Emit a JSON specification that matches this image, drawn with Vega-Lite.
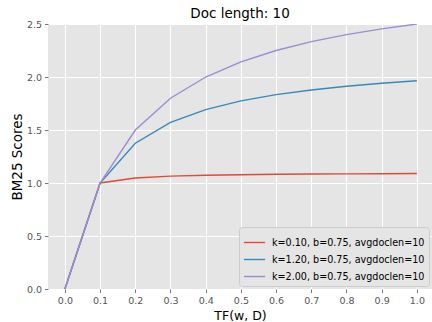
{
  "$schema": "https://vega.github.io/schema/vega-lite/v6.json",
  "width": 384,
  "height": 265,
  "autosize": {"type": "none"},
  "padding": {"left": 48, "top": 24, "right": 0, "bottom": 33},
  "background": "white",
  "title": {"text": "Doc length: 10", "fontSize": 13.5, "fontWeight": "normal", "font": "DejaVu Sans", "color": "black", "anchor": "middle", "frame": "group", "offset": 6, "baseline": "alphabetic", "dy": 18},
  "data": {"values": [
    {"tf": 0.0, "score": 0, "series": "k=0.10, b=0.75, avgdoclen=10"},
    {"tf": 0.1, "score": 1.0, "series": "k=0.10, b=0.75, avgdoclen=10"},
    {"tf": 0.2, "score": 1.0476, "series": "k=0.10, b=0.75, avgdoclen=10"},
    {"tf": 0.3, "score": 1.0645, "series": "k=0.10, b=0.75, avgdoclen=10"},
    {"tf": 0.4, "score": 1.0732, "series": "k=0.10, b=0.75, avgdoclen=10"},
    {"tf": 0.5, "score": 1.0784, "series": "k=0.10, b=0.75, avgdoclen=10"},
    {"tf": 0.6, "score": 1.0820, "series": "k=0.10, b=0.75, avgdoclen=10"},
    {"tf": 0.7, "score": 1.0845, "series": "k=0.10, b=0.75, avgdoclen=10"},
    {"tf": 0.8, "score": 1.0864, "series": "k=0.10, b=0.75, avgdoclen=10"},
    {"tf": 0.9, "score": 1.0879, "series": "k=0.10, b=0.75, avgdoclen=10"},
    {"tf": 1.0, "score": 1.0891, "series": "k=0.10, b=0.75, avgdoclen=10"},
    {"tf": 0.0, "score": 0, "series": "k=1.20, b=0.75, avgdoclen=10"},
    {"tf": 0.1, "score": 1.0, "series": "k=1.20, b=0.75, avgdoclen=10"},
    {"tf": 0.2, "score": 1.375, "series": "k=1.20, b=0.75, avgdoclen=10"},
    {"tf": 0.3, "score": 1.5714, "series": "k=1.20, b=0.75, avgdoclen=10"},
    {"tf": 0.4, "score": 1.6923, "series": "k=1.20, b=0.75, avgdoclen=10"},
    {"tf": 0.5, "score": 1.7742, "series": "k=1.20, b=0.75, avgdoclen=10"},
    {"tf": 0.6, "score": 1.8333, "series": "k=1.20, b=0.75, avgdoclen=10"},
    {"tf": 0.7, "score": 1.8780, "series": "k=1.20, b=0.75, avgdoclen=10"},
    {"tf": 0.8, "score": 1.9130, "series": "k=1.20, b=0.75, avgdoclen=10"},
    {"tf": 0.9, "score": 1.9412, "series": "k=1.20, b=0.75, avgdoclen=10"},
    {"tf": 1.0, "score": 1.9643, "series": "k=1.20, b=0.75, avgdoclen=10"},
    {"tf": 0.0, "score": 0, "series": "k=2.00, b=0.75, avgdoclen=10"},
    {"tf": 0.1, "score": 1.0, "series": "k=2.00, b=0.75, avgdoclen=10"},
    {"tf": 0.2, "score": 1.5, "series": "k=2.00, b=0.75, avgdoclen=10"},
    {"tf": 0.3, "score": 1.8, "series": "k=2.00, b=0.75, avgdoclen=10"},
    {"tf": 0.4, "score": 2.0, "series": "k=2.00, b=0.75, avgdoclen=10"},
    {"tf": 0.5, "score": 2.1429, "series": "k=2.00, b=0.75, avgdoclen=10"},
    {"tf": 0.6, "score": 2.25, "series": "k=2.00, b=0.75, avgdoclen=10"},
    {"tf": 0.7, "score": 2.3333, "series": "k=2.00, b=0.75, avgdoclen=10"},
    {"tf": 0.8, "score": 2.4, "series": "k=2.00, b=0.75, avgdoclen=10"},
    {"tf": 0.9, "score": 2.4545, "series": "k=2.00, b=0.75, avgdoclen=10"},
    {"tf": 1.0, "score": 2.5, "series": "k=2.00, b=0.75, avgdoclen=10"}
  ]},
  "mark": {"type": "line", "strokeWidth": 1.4, "clip": true},
  "encoding": {
    "x": {"field": "tf", "type": "quantitative", "title": "TF(w, D)",
      "scale": {"domain": [-0.048, 1.043], "nice": false, "zero": false},
      "axis": {"values": [0, 0.1, 0.2, 0.3, 0.4, 0.5, 0.6, 0.7, 0.8, 0.9, 1.0], "format": ".1f", "titlePadding": 4}},
    "y": {"field": "score", "type": "quantitative", "title": "BM25 Scores",
      "scale": {"domain": [0, 2.5], "nice": false},
      "axis": {"values": [0, 0.5, 1.0, 1.5, 2.0, 2.5], "format": ".1f", "titlePadding": 2, "titleFontSize": 13.5}},
    "color": {"field": "series", "type": "nominal",
      "scale": {"range": ["#E24A33", "#348ABD", "#988ED5"]},
      "legend": {"title": null, "orient": "bottom-right", "offset": 3, "symbolType": "stroke", "symbolSize": 450, "symbolStrokeWidth": 1.4,
        "labelFontSize": 9.6, "labelFont": "DejaVu Sans", "labelColor": "black", "fillColor": "#E5E5E5", "strokeColor": "#CCCCCC", "cornerRadius": 3, "padding": 4, "rowPadding": -6, "labelOffset": 6}}
  },
  "config": {
    "font": "DejaVu Sans",
    "view": {"fill": "#E5E5E5", "stroke": null},
    "axis": {"domain": false, "grid": true, "gridColor": "white", "gridWidth": 1, "gridOpacity": 1,
      "tickColor": "#555555", "tickSize": 3.5, "tickWidth": 0.8, "labelPadding": 3, "labelColor": "#555555",
      "labelFontSize": 9.5, "labelFont": "DejaVu Sans", "titleFont": "DejaVu Sans", "titleFontSize": 12.5, "titleFontWeight": "normal", "titleColor": "black", "labelFlush": false, "labelOverlap": false}
  }
}
